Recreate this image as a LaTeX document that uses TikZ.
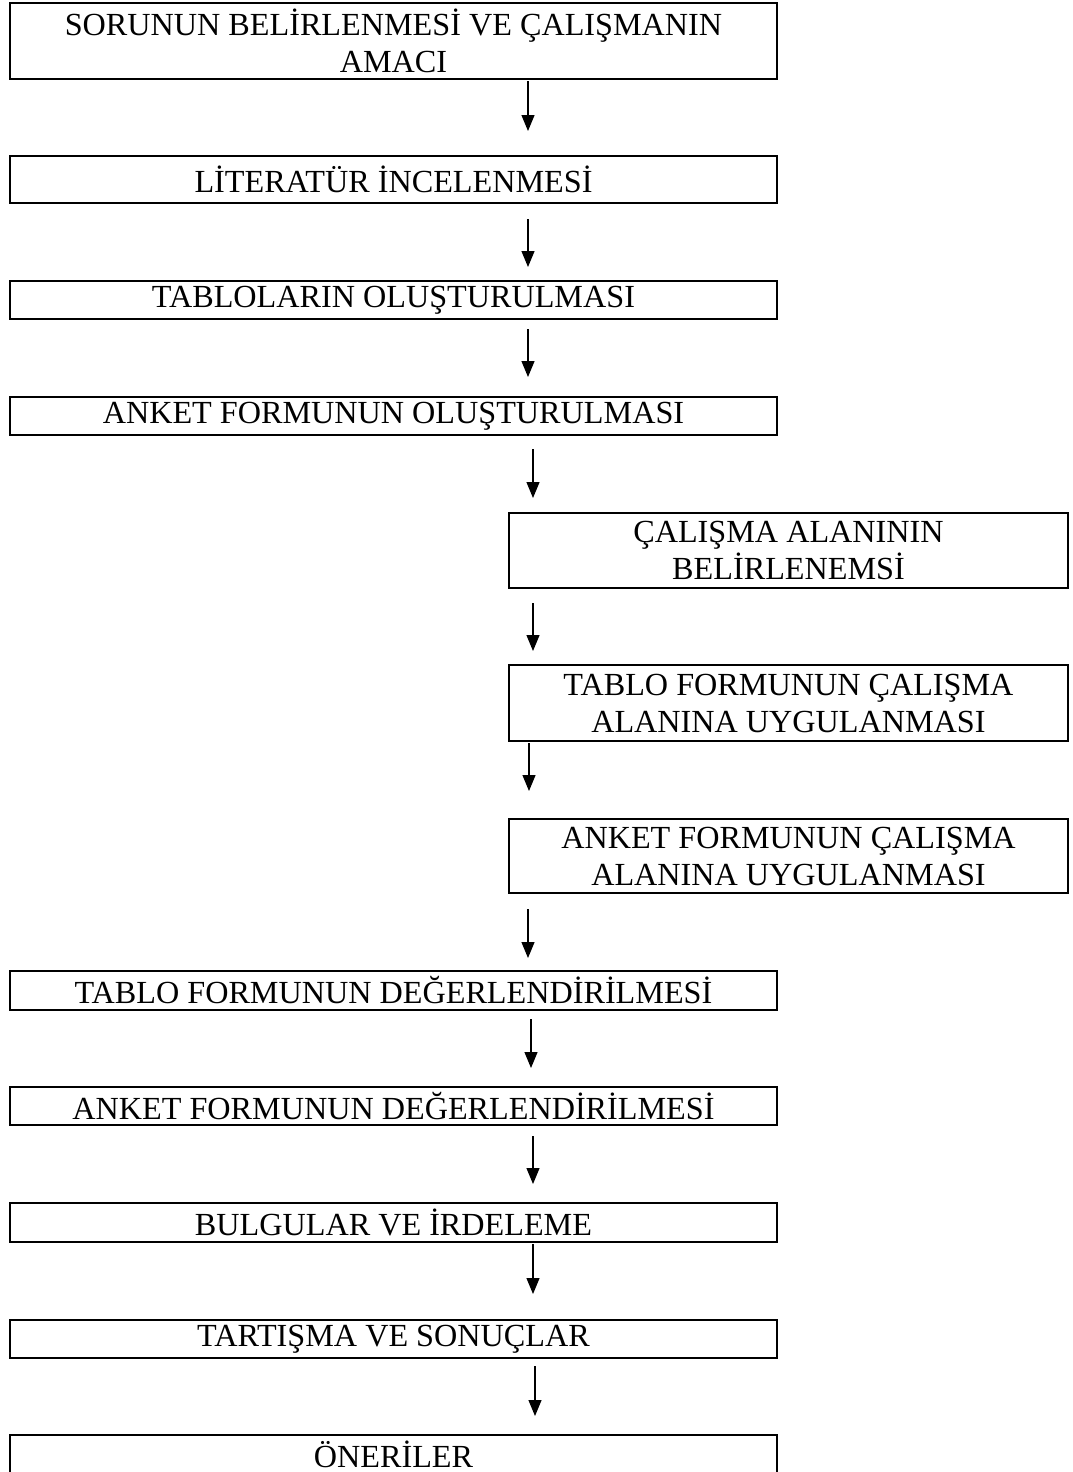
\documentclass[tikz,border=0pt]{standalone}
\usepackage{fontspec}
\setmainfont{Liberation Serif}
\usetikzlibrary{positioning, arrows.meta, calc}

\begin{document}
\begin{tikzpicture}[
    x=0.5pt, y=-0.5pt, % pixel units, y going down
    % Styles
    stage/.style={ % process box
        rectangle,
        draw,
        line width=1pt,
        inner sep=0pt,
        align=center,
        font={\fontsize{16.1}{18.5}\selectfont}
    },
    wide/.style={ % boxes on the left column
        stage,
        minimum width=383.5pt
    },
    narrow/.style={ % boxes shifted to the right
        stage,
        minimum width=279.5pt
    },
    arrow/.style={
        -{Triangle[length=8pt, width=6.5pt]},
        line width=0.6pt
    }
]
    \useasboundingbox (0,0) rectangle (1072,1472);

    % Left column, top part
    \node[wide, minimum height=38pt] (b1) at (393.5,41)
        {SORUNUN BELİRLENMESİ VE ÇALIŞMANIN\\AMACI};
    \node[wide, minimum height=23.5pt] (b2) at (393.5,179.5) {LİTERATÜR İNCELENMESİ};
    \node[wide, minimum height=19pt] (b3) at (393.5,300) {TABLOLARIN OLUŞTURULMASI};
    \node[wide, minimum height=19pt] (b4) at (393.5,416) {ANKET FORMUNUN OLUŞTURULMASI};

    % Right column
    \node[narrow, minimum height=37.5pt] (b5) at (788.5,550.5)
        {ÇALIŞMA ALANININ\\BELİRLENEMSİ};
    \node[narrow, minimum height=38pt] (b6) at (788.5,703)
        {TABLO FORMUNUN ÇALIŞMA\\ALANINA UYGULANMASI};
    \node[narrow, minimum height=37pt] (b7) at (788.5,856)
        {ANKET FORMUNUN ÇALIŞMA\\ALANINA UYGULANMASI};

    % Left column, bottom part
    \node[wide, minimum height=19.5pt] (b8) at (393.5,990.5) {TABLO FORMUNUN DEĞERLENDİRİLMESİ};
    \node[wide, minimum height=19pt] (b9) at (393.5,1106) {ANKET FORMUNUN DEĞERLENDİRİLMESİ};
    \node[wide, minimum height=19.5pt] (b10) at (393.5,1222.5) {BULGULAR VE İRDELEME};
    \node[wide, minimum height=19pt] (b11) at (393.5,1339) {TARTIŞMA VE SONUÇLAR};
    \node[wide, minimum height=19pt] (b12) at (393.5,1454) {ÖNERİLER};

    % Arrows between the steps
    \foreach \a/\b/\x/\s/\e in {b1/b2/528/0.5pt/12pt, b2/b3/528/7.5pt/6.5pt,
            b3/b4/528/4.5pt/9.5pt, b4/b5/533/6.5pt/7pt, b5/b6/533/7pt/6.5pt,
            b6/b7/529/0.5pt/13.5pt, b7/b8/528/7.5pt/6pt, b8/b9/531/4pt/9pt,
            b9/b10/533/5pt/9pt, b10/b11/533/0.5pt/12.5pt, b11/b12/535/3.5pt/9pt} {
        \draw[arrow, shorten <=\s, shorten >=\e] (\a.south -| \x,0) -- (\b.north -| \x,0);
    }
\end{tikzpicture}
\end{document}
